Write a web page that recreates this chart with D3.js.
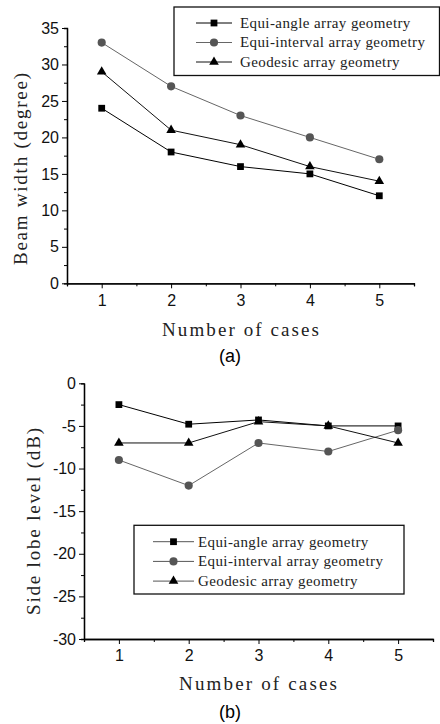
<!DOCTYPE html>
<html>
<head>
<meta charset="utf-8">
<script src="https://cdn.jsdelivr.net/npm/d3@7"></script>
<style>
  body { margin: 0; background: #fff; }
  svg { display: block; }
  .tick text { font-family: 'Liberation Sans', Arial, sans-serif; font-size: 16px; fill: #111; }
  .serif { font-family: 'Liberation Serif', 'Times New Roman', serif; fill: #222; }
</style>
</head>
<body>
<div id="chart"></div>
<script>
// Data
const cases = [1, 2, 3, 4, 5];
const seriesNames = ['Equi-angle array geometry', 'Equi-interval array geometry', 'Geodesic array geometry'];

const beamEquiAngle = [24, 18, 16, 15, 12];
const beamEquiInterval = [33, 27, 23, 20, 17];
const beamGeodesic = [29, 21, 19, 16, 14];

const sideEquiAngle = [-2.5, -4.8, -4.3, -5, -5];
const sideEquiInterval = [-9, -12, -7, -8, -5.5];
const sideGeodesic = [-7, -7, -4.5, -5, -7];

const beamTicks = [0, 5, 10, 15, 20, 25, 30, 35];
const sideTicks = [0, -5, -10, -15, -20, -25, -30];

const svg = d3.select('#chart').append('svg')
  .attr('width', 440)
  .attr('height', 724);

// marker styles per series
const styles = [
  { symbol: d3.symbolSquare, size: 46, fill: '#000', line: '#000' },
  { symbol: d3.symbolCircle, size: 52, fill: '#555', line: '#666' },
  { symbol: d3.symbolTriangle, size: 40, fill: '#000', line: '#111' }
];

// plain hyphen minus, like the original
const plain = d => String(d);

function panel(opt) {
  const xScale = d3.scaleLinear().domain([0.5, 5.5]).range(opt.xRange);
  const yScale = d3.scaleLinear().domain(opt.yDomain).range(opt.yRange);
  const g = svg.append('g');

  //Axes: minor ticks first, then labeled majors
  const halfSteps = d3.range(0.5, 5.6, 1);
  g.append('g')
    .attr('transform', `translate(0, ${opt.yRange[0]})`)
    .call(d3.axisBottom(xScale).tickValues(halfSteps).tickSize(3).tickFormat(''));
  g.append('g')
    .attr('transform', `translate(0, ${opt.yRange[0]})`)
    .call(d3.axisBottom(xScale).tickValues(cases).tickSize(5).tickSizeOuter(0).tickPadding(6).tickFormat(plain));

  const yMinor = opt.yTicks.slice(1).map(v => v - (opt.yTicks[1] - opt.yTicks[0]) / 2);
  g.append('g')
    .attr('transform', `translate(${opt.xRange[0]}, 0)`)
    .call(d3.axisLeft(yScale).tickValues(yMinor).tickSize(3).tickFormat(''));
  g.append('g')
    .attr('transform', `translate(${opt.xRange[0]}, 0)`)
    .call(d3.axisLeft(yScale).tickValues(opt.yTicks).tickSize(5).tickSizeOuter(0).tickPadding(3).tickFormat(plain));

  g.selectAll('.domain').attr('stroke', '#000').attr('stroke-width', 1.3);
  g.selectAll('.tick line').attr('stroke', '#000');

  //Lines and markers
  const line = d3.line()
    .x((d, i) => xScale(cases[i]))
    .y(d => yScale(d));

  opt.series.forEach((values, k) => {
    g.append('path')
      .attr('d', line(values))
      .attr('fill', 'none')
      .attr('stroke', styles[k].line)
      .attr('stroke-width', 1);
  });
  opt.series.forEach((values, k) => {
    g.selectAll(null)
      .data(values)
      .enter().append('path')
      .attr('transform', (d, i) => `translate(${xScale(cases[i])}, ${yScale(d)})`)
      .attr('d', d3.symbol().type(styles[k].symbol).size(styles[k].size))
      .attr('fill', styles[k].fill);
  });

  //Axis titles
  g.append('text')
    .attr('class', 'serif')
    .attr('x', opt.xTitle[0])
    .attr('y', opt.xTitle[1])
    .attr('textLength', opt.xTitle[2])
    .attr('lengthAdjust', 'spacing')
    .style('font-size', '19px')
    .text('Number of cases');

  g.append('text')
    .attr('class', 'serif')
    .attr('transform', `translate(${opt.yTitle[0]}, ${opt.yTitle[1]}) rotate(-90)`)
    .attr('textLength', opt.yTitle[2])
    .attr('lengthAdjust', 'spacing')
    .style('font-size', '19px')
    .text(opt.yLabel);

  g.append('text')
    .attr('x', opt.caption[0])
    .attr('y', opt.caption[1])
    .attr('text-anchor', 'middle')
    .style('font-family', "'Liberation Sans', Arial, sans-serif")
    .style('font-size', '18px')
    .text(opt.captionText);

  //Legend
  const lg = g.append('g').attr('transform', `translate(${opt.legend.x}, ${opt.legend.y})`);
  lg.append('rect')
    .attr('width', opt.legend.w)
    .attr('height', opt.legend.h)
    .attr('fill', '#fff')
    .attr('stroke', '#111')
    .attr('stroke-width', 1.3);
  seriesNames.forEach((name, k) => {
    const row = lg.append('g')
      .attr('transform', `translate(0, ${opt.legend.first + k * opt.legend.step})`);
    row.append('line')
      .attr('x1', opt.legend.lineX[0])
      .attr('x2', opt.legend.lineX[1])
      .attr('stroke', opt.legend.lineColor || styles[k].line)
      .attr('stroke-width', 1);
    row.append('path')
      .attr('transform', `translate(${(opt.legend.lineX[0] + opt.legend.lineX[1]) / 2}, 0)`)
      .attr('d', d3.symbol().type(styles[k].symbol).size(styles[k].size))
      .attr('fill', styles[k].fill);
    row.append('text')
      .attr('class', 'serif')
      .attr('x', opt.legend.textX)
      .attr('dy', '0.33em')
      .style('font-size', '15px')
      .style('letter-spacing', '0.4px')
      .text(name);
  });
}

panel({
  xRange: [67, 414],
  yRange: [283.3, 28],
  yDomain: [0, 35],
  yTicks: beamTicks,
  series: [beamEquiAngle, beamEquiInterval, beamGeodesic],
  yLabel: 'Beam width (degree)',
  xTitle: [162, 335.5, 157],
  yTitle: [26.5, 265, 192],
  caption: [230, 362],
  captionText: '(a)',
  legend: { x: 174, y: 7, w: 265.5, h: 68.5, first: 16, step: 19.5, lineX: [22, 58], textX: 66 }
});

panel({
  xRange: [84, 433],
  yRange: [639, 383.3],
  yDomain: [-30, 0],
  yTicks: sideTicks.slice().reverse(),
  series: [sideEquiAngle, sideEquiInterval, sideGeodesic],
  yLabel: 'Side lobe level (dB)',
  xTitle: [179, 690, 158],
  yTitle: [39.5, 615, 187],
  caption: [230, 718],
  captionText: '(b)',
  legend: { x: 134, y: 525.3, w: 270, h: 68.7, first: 16.4, step: 19.7, lineX: [19, 60], textX: 64, lineColor: '#555' }
});
</script>
</body>
</html>
